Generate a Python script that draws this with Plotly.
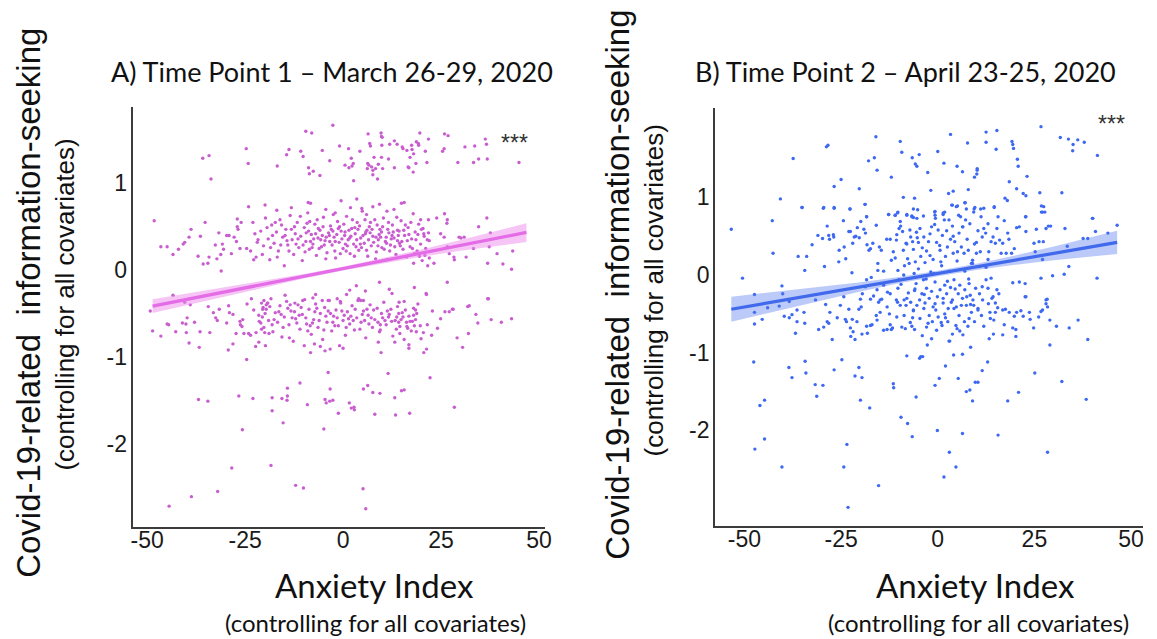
import plotly.graph_objects as go

PAGE_W, PAGE_H = 1157, 639
OFF = 8  # default page body margin
W, H = PAGE_W - OFF, PAGE_H - OFF

# ---------------- Panel A data (Time Point 1) ----------------
a_top = [(-35.8,1.29),(-34.2,1.32),(-33.7,1.05),(-24.7,1.40),(-24.2,1.23),(-16.8,1.20),(-14.4,1.33),(-13.8,1.39),
 (-10.8,1.37),(-10.2,1.31),(-9.5,1.60),(-8.0,1.58),(-8.8,1.18),(-8.6,1.11),(-7.6,1.14),(-5.9,1.09),(-5.3,1.38),
 (-3.4,1.26),(-2.6,1.67),(-0.9,1.43),(0.5,1.21),(1.4,1.40),(1.5,1.18),(2.1,1.29),(2.3,1.20),(2.6,1.23),(2.7,1.03),
 (4.3,1.37),(6.4,1.57),(6.8,1.46),(7.0,1.43),(6.3,1.23),(6.6,1.21),(6.2,1.17),(7.3,1.19),(7.6,1.15),(7.6,1.10),
 (7.9,1.30),(8.3,1.17),(8.8,1.05),(9.0,1.22),(9.7,1.58),(9.8,1.54),(10.0,1.53),(9.9,1.44),(9.8,1.30),(10.1,1.17),
 (11.6,1.28),(11.9,1.45),(13.1,1.49),(13.1,1.18),(13.8,1.45),(15.1,1.42),(15.3,1.40),(16.3,1.38),(16.6,1.19),
 (16.8,1.18),(17.1,1.30),(17.5,1.44),(17.6,1.39),(17.9,1.13),(18.0,1.34),(18.6,1.23),(18.7,1.48),(19.2,1.46),
 (19.3,1.44),(19.6,1.58),(21.0,1.37),(21.4,1.24),(21.8,1.51),(25.4,1.37),(25.8,1.40),(25.9,1.57),(26.8,1.55),
 (29.3,1.24),(31.1,1.42),(33.3,1.24),(33.6,1.43),(34.6,1.28),(36.3,1.51),(36.6,1.45),(36.8,1.28),(44.9,1.24)]

a_mid_edge = [(-48.2,0.57),(-46.5,0.27),(-44.9,0.27),(-43.4,0.18),(-42.0,0.24),(-40.8,0.30),(-40.4,0.32),(-39.3,0.38),
 (-38.8,0.47),(-37.0,0.16),(-36.4,0.39),(-35.7,0.07),(-35.2,0.55),(-34.5,0.08),(-34.2,0.15),(-32.6,0.29),(-32.2,0.13),
 (-31.7,0.43),(-31.2,0.18),(-31.1,-0.01),(-30.8,0.30),(-30.5,0.24),(-29.7,0.40),(-29.1,0.40),(-28.5,0.19),(-27.8,0.38),
 (-27.2,0.33),(-27.0,0.59),(-27.0,0.50),(-26.8,0.47),(-26.3,0.25),(-26.0,0.55),(-24.6,0.25),(-23.6,0.22),(-23.0,0.55),
 (-22.8,0.12),(-22.5,0.42),(-22.2,0.15),(-21.9,0.32),(-21.7,0.35),
 (34.6,0.50),(36.7,0.60),(37.6,0.43),(36.9,0.08),(37.3,0.27),(39.3,0.19),(40.8,0.07),(43.0,0.01),(43.3,0.22),(33.3,0.25),
 (31.4,0.15),(29.6,0.38),(30.1,0.37),(30.9,0.38),(28.3,0.15),(28.4,0.12),(26.6,0.27),(27.1,0.19),(25.9,0.65),(26.6,0.58),
 (26.5,0.54),(23.9,0.60),(24.9,0.42),(25.8,0.38),(23.2,0.08),(22.0,0.14),(21.5,0.35),(20.6,0.42),(21.8,0.58),(19.8,0.58),
 (20.4,0.48),
 (-24.1,0.73),(-19.9,0.75),(-16.9,0.69),(-13.2,0.72),(-8.9,0.78),(-8.3,0.77),(-4.4,0.70),(-0.5,0.80),(3.5,0.82),(4.8,0.71),
 (7.6,0.73),(9.3,0.76),(13.0,0.70),(14.9,0.77),(15.6,0.78),(11.2,0.68),(-2.0,0.66),(1.9,0.72),(6.0,0.64),(17.9,0.65)]

a_mid_core = [(-21.0,0.45),(-20.3,0.28),(-19.8,0.60),(-19.1,0.36),(-18.7,0.12),(-18.2,0.52),(-17.6,0.31),(-17.0,0.44),
 (-16.5,0.22),(-16.1,0.58),(-15.4,0.38),(-15.0,0.05),(-14.6,0.47),(-14.1,0.29),(-13.5,0.63),(-13.0,0.35),(-12.6,0.18),
 (-12.2,0.42),(-11.7,0.55),(-11.3,0.26),(-10.8,0.39),(-10.4,0.11),(-9.9,0.49),(-9.5,0.33),(-9.0,0.66),(-8.6,0.24),
 (-8.1,0.41),(-7.7,0.30),(-7.2,0.53),(-6.8,0.17),(-6.4,0.37),(-5.9,0.46),(-5.5,0.27),(-5.0,0.61),(-4.6,0.34),(-4.1,0.20),
 (-3.7,0.43),(-3.2,0.51),(-2.8,0.29),(-2.3,0.38),(-1.9,0.14),(-1.4,0.56),(-1.0,0.32),(-0.5,0.45),(0.0,0.25),(0.4,0.40),
 (0.9,0.62),(1.3,0.35),(1.8,0.19),(2.2,0.48),(2.7,0.30),(3.1,0.42),(3.6,0.55),(4.0,0.23),(4.5,0.37),(4.9,0.68),(5.4,0.31),
 (5.8,0.44),(6.3,0.16),(6.7,0.50),(7.2,0.28),(7.6,0.39),(8.1,0.58),(8.5,0.21),(9.0,0.35),(9.4,0.47),(9.9,0.26),(10.3,0.60),
 (10.8,0.33),(11.2,0.12),(11.7,0.43),(12.1,0.29),(12.6,0.52),(13.0,0.37),(13.5,0.18),(13.9,0.46),(14.4,0.31),(14.8,0.57),
 (15.3,0.24),(15.7,0.40),(16.2,0.15),(16.6,0.49),(17.1,0.27),(17.5,0.36),(18.0,0.08),(18.4,0.44),(18.9,0.22),(19.3,0.53),
 (19.8,0.30),(20.2,0.11),(20.7,0.39),(21.1,0.25),(21.6,0.05),(22.0,0.34),
 (-20.6,0.18),(-19.4,0.49),(-18.0,0.40),(-16.8,0.15),(-15.7,0.52),(-14.3,0.34),(-13.2,0.47),(-12.0,0.30),(-10.9,0.62),
 (-9.7,0.21),(-8.8,0.45),(-7.5,0.36),(-6.6,0.58),(-5.3,0.40),(-4.4,0.13),(-3.4,0.33),(-2.5,0.64),(-1.6,0.41),(-0.7,0.19),
 (0.2,0.53),(1.1,0.28),(2.0,0.39),(2.9,0.16),(3.8,0.47),(4.7,0.26),(5.6,0.58),(6.5,0.35),(7.4,0.47),(8.3,0.13),(9.2,0.41),
 (10.1,0.50),(11.0,0.38),(11.9,0.22),(12.8,0.44),(13.7,0.61),(14.6,0.28),(15.5,0.46),(16.4,0.34),(17.3,0.55),(18.2,0.19),
 (19.1,0.41),(20.0,0.47),(20.9,0.17),(21.8,0.43),
 (-18.5,0.26),(-17.3,0.55),(-15.9,0.29),(-14.8,0.40),(-13.8,0.22),(-12.4,0.50),(-11.5,0.36),(-10.2,0.29),(-9.2,0.54),
 (-8.3,0.33),(-7.0,0.42),(-6.1,0.25),(-5.1,0.50),(-4.3,0.38),(-3.0,0.47),(-2.1,0.22),(-1.2,0.48),(-0.3,0.36),(0.6,0.30),
 (1.5,0.46),(2.4,0.58),(3.3,0.27),(4.2,0.51),(5.1,0.40),(6.0,0.23),(6.9,0.43),(7.8,0.32),(8.7,0.52),(9.6,0.38),(10.5,0.24),
 (11.4,0.47),(12.3,0.36),(13.2,0.27),(14.1,0.40),(15.0,0.33),(15.9,0.52),(16.8,0.41),(17.7,0.25),(18.6,0.35),(19.5,0.16),
 (-9.4,0.43),(-7.9,0.26),(-6.3,0.48),(-4.8,0.29),(-3.5,0.40),(-2.0,0.33),(-0.9,0.50),(0.5,0.44),(1.7,0.37),(3.0,0.49),
 (4.4,0.30),(5.7,0.42),(7.0,0.55),(8.4,0.38),(9.8,0.44),(11.1,0.31),(12.5,0.40),(13.9,0.34),(-8.5,0.56),(-5.7,0.35),
 (-2.6,0.45),(0.8,0.22),(3.5,0.35),(6.1,0.46),(8.9,0.28),(11.6,0.55),(14.3,0.45)]

a_low_edge = [(-43.4,-0.29),(-40.4,-0.37),(-39.0,-0.40),(-34.4,-0.42),(-31.6,-0.45),(-23.4,-0.33),(-20.2,-0.35),(-19.3,-0.38),
 (-14.8,-0.29),(-12.3,-0.38),(-10.3,-0.35),(-7.7,-0.32),(-7.0,-0.28),(-5.3,-0.35),(-3.8,-0.35),(-1.5,-0.33),(-0.7,-0.36),
 (0.9,-0.28),(1.7,-0.23),(3.4,-0.18),(3.8,-0.35),(4.5,-0.35),(5.2,-0.35),(5.7,-0.24),(9.3,-0.14),(11.8,-0.22),(12.5,-0.27),
 (14.3,-0.37),(18.2,-0.20),(21.3,-0.28),(26.6,-0.14),(36.9,-0.33),(31.8,-0.42),(27.9,-0.45),
 (-49.2,-0.47),(-48.6,-0.70),(-46.5,-0.76),(-44.9,-0.62),(-44.5,-0.63),(-42.7,-0.71),(-41.0,-0.61),(-40.1,-0.62),
 (-40.0,-0.72),(-39.8,-0.55),(-39.3,-0.84),(-37.9,-0.60),(-36.7,-0.89),(-36.5,-0.71),(-34.0,-0.72),(-33.1,-0.49),
 (-32.5,-0.55),(-32.1,-0.58),(-29.7,-0.61),(-29.3,-0.92),(-29.2,-0.41),(-29.0,-0.49),(-28.1,-0.51),(-28.1,-0.85),
 (-27.3,-0.73),(-26.3,-0.59),(-26.2,-0.63),(-25.8,-0.65),(-25.6,-0.57),(-25.3,-0.73),(-24.6,-1.03),(-24.5,-0.39),
 (-24.1,-0.73),(-23.6,-0.75),(-22.8,-0.46),(-22.3,-0.88),(-22.2,-0.72),(-21.5,-0.83),(-21.4,-0.59),(-20.8,-0.68),
 (-20.6,-0.54),(-20.4,-0.43),(-20.0,-0.72),(-19.8,-0.87),(-19.6,-0.40),(-19.2,-0.38),(-18.9,-0.73),
 (43.0,-0.56),(40.4,-0.60),(37.8,-0.57),(37.1,-0.33),(34.4,-0.61),(33.9,-0.51),(32.2,-0.41),(32.0,-0.73),(30.5,-0.89),
 (29.1,-0.78),(28.1,-0.45),(27.1,-0.48),(26.0,-0.48),(24.9,-0.56),(24.1,-0.67),(22.8,-0.47),(22.6,-0.75),(21.5,-0.63),
 (21.3,-0.91),(20.6,-0.95),(21.2,-0.27),(20.5,-0.72),(19.9,-0.79),(18.7,-0.71),(18.5,-0.46),(18.0,-0.52),(17.7,-0.59),
 (16.8,-0.86),(16.8,-0.90),(16.3,-0.65),(15.6,-0.80),(14.5,-0.73),(13.2,-0.83),(14.2,-0.60),(13.7,-0.54),(9.7,-0.95),
 (9.5,-0.69),(9.0,-0.83),(0.0,-0.90),(-0.9,-0.87),(-3.3,-0.91),(-4.6,-0.93),(-5.8,-0.88),(-7.3,-0.85),(-8.3,-0.95),
 (-9.9,-0.87),(-13.7,-0.78)]

a_low_core = [(-21.5,-0.52),(-20.8,-0.38),(-20.2,-0.66),(-19.6,-0.45),(-19.0,-0.58),(-18.4,-0.33),(-17.9,-0.71),(-17.3,-0.49),
 (-16.7,-0.60),(-16.1,-0.41),(-15.6,-0.77),(-15.0,-0.54),(-14.4,-0.36),(-13.8,-0.63),(-13.3,-0.47),(-12.7,-0.82),
 (-12.1,-0.56),(-11.5,-0.40),(-11.0,-0.68),(-10.4,-0.51),(-9.8,-0.34),(-9.3,-0.62),(-8.7,-0.45),(-8.1,-0.74),(-7.5,-0.57),
 (-7.0,-0.39),(-6.4,-0.66),(-5.8,-0.50),(-5.2,-0.80),(-4.7,-0.43),(-4.1,-0.60),(-3.5,-0.35),(-2.9,-0.70),(-2.4,-0.53),
 (-1.8,-0.46),(-1.2,-0.64),(-0.6,-0.38),(0.0,-0.58),(0.6,-0.75),(1.1,-0.48),(1.7,-0.62),(2.3,-0.41),(2.9,-0.69),(3.5,-0.55),
 (4.0,-0.33),(4.6,-0.60),(5.2,-0.47),(5.8,-0.78),(6.4,-0.52),(6.9,-0.40),(7.5,-0.66),(8.1,-0.57),(8.7,-0.44),(9.3,-0.71),
 (9.8,-0.50),(10.4,-0.37),(11.0,-0.63),(11.6,-0.54),(12.2,-0.45),(12.7,-0.76),(13.3,-0.58),(13.9,-0.42),(14.5,-0.65),
 (15.1,-0.49),(15.6,-0.36),(16.2,-0.60),(16.8,-0.53),(17.4,-0.70),(18.0,-0.44),(18.5,-0.57),(19.1,-0.39),(19.7,-0.64),
 (-21.0,-0.61),(-19.9,-0.50),(-18.7,-0.42),(-17.6,-0.57),(-16.4,-0.48),(-15.3,-0.66),(-14.1,-0.44),(-13.0,-0.55),
 (-11.8,-0.61),(-10.7,-0.43),(-9.5,-0.55),(-8.4,-0.64),(-7.2,-0.48),(-6.1,-0.58),(-4.9,-0.69),(-3.8,-0.47),(-2.6,-0.60),
 (-1.5,-0.55),(-0.3,-0.47),(0.8,-0.66),(2.0,-0.53),(3.1,-0.45),(4.3,-0.68),(5.5,-0.58),(6.6,-0.62),(7.8,-0.46),(8.9,-0.60),
 (10.1,-0.55),(11.3,-0.47),(12.4,-0.59),(13.6,-0.68),(14.8,-0.57),(15.9,-0.46),(17.1,-0.59),(18.2,-0.64),
 (-20.5,-0.45),(-18.1,-0.63),(-15.8,-0.51),(-13.5,-0.40),(-11.2,-0.52),(-9.0,-0.70),(-6.7,-0.44),(-4.4,-0.53),(-2.1,-0.64),
 (0.3,-0.52),(2.6,-0.58),(4.9,-0.51),(7.2,-0.55),(9.5,-0.63),(11.8,-0.51),(14.2,-0.50),(16.5,-0.67),(18.8,-0.50),
 (-12.4,-0.48),(-7.8,-0.61),(-3.2,-0.50),(1.4,-0.56),(6.1,-0.45),(10.7,-0.58),(15.3,-0.54)]

a_tail = [(-3.8,-1.18),(11.5,-1.19),(22.2,-1.24),(-11.0,-1.30),(-14.2,-1.36),(-3.3,-1.37),(6.3,-1.33),(5.2,-1.37),
 (-36.9,-1.49),(-34.5,-1.51),(-26.6,-1.45),(-23.0,-1.48),(-18.1,-1.47),(-15.6,-1.48),(-14.2,-1.45),(-14.3,-1.50),
 (-18.1,-1.62),(-15.3,-1.76),(-25.7,-1.84),(-9.1,-1.55),(-4.6,-1.49),(-4.3,-1.53),(-3.4,-1.51),(-2.6,-1.50),(-4.9,-1.83),
 (-1.2,-1.65),(1.6,-1.53),(2.1,-1.59),(2.8,-1.58),(2.9,-1.61),(7.6,-1.41),(9.4,-1.42),(8.1,-1.66),(13.2,-1.47),
 (13.4,-1.67),(14.9,-1.39),(15.6,-1.38),(17.0,-1.65),(28.4,-1.58),(-28.4,-2.28),(-18.4,-2.25),(-32.0,-2.55),
 (-38.7,-2.61),(-44.4,-2.72),(-12.1,-2.48),(-10.1,-2.51),(5.1,-2.52),(5.8,-2.75)]

# fitted line and confidence band, panel A
lineA_x = [-48.6, 46.8]
lineA_y = [-0.415, 0.435]
bandA_x = [-48.6, -40, -30, -20, -10, 0, 10, 20, 30, 40, 46.8]
bandA_lo = [-0.495, -0.405, -0.303, -0.198, -0.097, -0.004, 0.079, 0.154, 0.223, 0.286, 0.325]
bandA_hi = [-0.335, -0.270, -0.195, -0.122, -0.045, 0.040, 0.135, 0.238, 0.347, 0.462, 0.540]

# ---------------- Panel B data (Time Point 2) ----------------
b_top = [(-37.4,1.50),(-40.7,0.98),(-35.1,0.87),(-29.6,0.86),(-28.8,1.65),(-28.4,1.67),(-26.8,0.87),(-26.8,1.14),
 (-25.0,1.23),(-22.7,0.85),(-20.3,1.11),(-18.8,0.91),(-18.4,0.75),(-17.9,1.47),(-16.4,1.51),(-16.0,1.78),(-15.7,1.35),
 (-12.7,0.78),(-12.0,1.26),(-11.0,0.77),(-10.3,0.81),(-9.7,1.72),(-9.3,1.58),(-8.9,1.00),(-8.0,0.78),(-6.7,0.76),
 (-6.6,1.51),(-6.3,0.74),(-6.0,0.99),(-6.3,0.85),(-5.8,1.43),(-5.4,1.40),(-5.2,0.84),(-4.8,1.55),(-2.6,1.32),(-1.8,1.09),
 (-0.7,0.82),(-0.7,0.77),(0.0,1.59),(1.4,0.78),(1.6,1.44),(1.8,0.81),(2.8,1.05),(3.3,1.81),(3.8,0.90),(4.0,1.08),
 (5.0,1.40),(5.1,0.89),(5.4,0.77),(6.4,1.33),(7.1,0.93),(7.4,0.85),(7.7,1.70),(7.9,1.10),(9.4,0.85),(9.5,1.26),
 (10.1,1.30),(10.2,1.37),(10.2,1.35),(11.1,0.85),(11.9,0.86),(12.5,1.84),(12.5,1.71),(14.6,0.87),(15.1,1.62),(15.3,1.86),
 (17.4,0.99),(18.0,0.96),(18.5,1.20),(19.2,1.72),(19.4,1.68),(19.6,1.63),(20.4,1.11),(20.6,1.49),(20.8,1.40),(22.1,1.05),
 (22.8,1.02),(23.1,1.27),(22.7,0.75),(26.4,1.06),(26.7,1.91),(26.8,0.81),(27.4,0.88),(27.7,0.81),(31.7,1.77),(32.1,1.06),
 (33.8,1.75),(34.9,1.60),(35.0,1.68),(36.2,1.74),(37.9,1.71),(40.0,0.73),(41.3,1.54)]

b_mid = [(-53.4,0.59),(-50.5,-0.04),(-47.4,-0.25),(-42.8,0.70),(-42.6,0.28),(-40.3,-0.14),(-40.1,-0.24),(-38.4,-0.34),
 (-36.1,0.24),(-35.1,0.87),(-34.4,0.06),(-33.9,0.24),(-32.5,0.39),(-31.0,0.51),(-29.8,0.47),(-29.5,0.87),(-29.3,0.11),
 (-28.6,0.63),(-28.2,0.51),(-28.0,0.46),(-27.0,0.52),(-26.9,0.49),(-26.8,0.86),(-25.5,0.32),(-25.6,0.17),(-24.4,0.70),
 (-24.2,0.36),(-23.8,0.21),(-23.0,0.56),(-22.7,0.85),(-22.6,0.56),(-22.2,0.03),(-22.0,0.41),(-21.6,0.49),(-21.2,0.50),
 (-20.8,0.61),(-20.3,0.48),(-19.9,0.69),(-19.1,0.59),(-18.8,0.91),(-18.7,0.54),(-18.4,0.75),(-18.3,0.39),(-17.8,0.32),
 (-17.4,0.34),(-17.2,-0.03),(-16.8,0.41),(-15.9,0.64),(-15.5,0.06),(-15.1,0.36),(-14.6,0.32),(-13.2,0.46),(-12.7,0.78),
 (-12.3,0.46),(-12.0,0.19),(-11.0,0.77),(-10.7,0.45),(-10.6,0.52),(-10.4,0.80),(-10.3,0.06),(-9.7,0.69),(-9.6,0.63),
 (-9.1,0.56),(-8.9,0.32),(-8.6,0.12),(-8.2,0.41),(-8.0,0.77),(-7.8,0.21),(-7.4,0.15),(-7.2,0.58),(-7.0,0.49),(-6.7,0.75),
 (-6.5,0.43),(-6.3,0.33),(-6.1,0.02),(-5.8,0.17),(-5.4,0.73),(-5.3,0.48),(-5.0,0.42),(-4.6,0.60),(-4.4,0.24),(-3.7,0.76),
 (-3.6,0.49),(-3.3,0.16),(-2.9,0.31),(-2.4,0.43),(-2.0,0.53),(-1.8,0.04),(-1.6,0.62),(-1.2,0.20),(-0.8,0.81),(-0.6,0.73),
 (-0.3,0.42),(0.1,0.58),(0.6,0.32),(0.8,0.17),(1.2,0.51),(1.4,0.80),(1.7,0.71),(2.0,0.24),(2.3,0.57),(2.5,0.36),(2.9,0.71),
 (3.3,0.46),(3.6,0.90),(3.8,0.63),(4.0,0.28),(4.4,0.43),(4.8,0.88),(5.1,0.30),(5.5,0.54),(5.9,0.75),(6.1,0.36),(6.4,0.62),
 (6.8,0.28),(7.0,0.93),(7.2,0.71),(7.6,0.46),(7.9,0.32),(8.3,0.66),(8.7,0.15),(9.0,0.19),(9.3,0.81),(9.5,0.40),(9.6,0.87),
 (10.0,0.28),(10.4,0.57),(10.8,0.11),(11.2,0.75),(11.5,0.49),(11.9,0.60),(12.4,0.54),(13.0,0.66),(13.2,0.30),(13.8,0.43),
 (14.3,0.49),(14.6,0.88),(14.9,0.41),(15.3,0.60),(15.6,0.75),(16.0,0.45),(16.4,0.28),(16.8,0.41),(17.2,0.70),(17.7,0.28),
 (18.1,0.54),(18.4,0.46),(19.1,0.28),(19.8,0.34),(20.4,0.61),(21.1,0.62),(22.8,0.75),(22.8,0.56),(24.9,0.41),(25.2,0.30),
 (25.5,0.59),(26.2,0.43),(26.8,0.89),(27.1,0.81),(27.3,0.43),(27.1,0.20),(28.0,0.60),(28.6,0.63),(29.2,0.63),(32.9,0.60),
 (33.5,0.37),(33.9,0.11),(37.6,0.47),(38.8,0.47),(40.1,0.73),(40.8,0.56),(41.2,-0.04),(44.0,0.54),(46.4,0.64),
 (26.7,-0.04),(29.7,-0.01),(32.7,0.01)]

b_low = [(-20.0,-0.31),(-19.5,-0.24),(-18.7,-0.15),(-18.4,-0.06),(-17.4,-0.31),(-16.6,-0.27),(-15.7,-0.19),(-14.9,-0.32),
 (-14.0,-0.13),(-13.1,-0.41),(-12.3,-0.24),(-10.7,-0.32),(-10.3,-0.17),(-10.1,-0.06),(-8.7,-0.32),(-8.2,-0.39),(-7.6,-0.23),
 (-6.3,-0.45),(-5.9,-0.18),(-5.6,-0.11),(-4.7,-0.32),(-4.1,-0.24),(-3.7,-0.06),(-3.3,-0.36),(-2.9,-0.17),(-2.2,-0.30),
 (-1.6,-0.21),(-1.2,-0.41),(-0.7,-0.09),(-0.1,-0.28),(0.6,-0.19),(1.4,-0.36),(1.8,-0.13),(2.3,-0.24),(2.7,-0.43),(3.3,-0.16),
 (3.8,-0.32),(4.2,-0.06),(4.8,-0.41),(5.3,-0.24),(5.7,-0.13),(6.4,-0.30),(7.0,-0.19),(7.4,-0.39),(8.1,-0.11),(8.4,-0.26),
 (9.1,-0.32),(9.8,-0.17),(10.4,-0.43),(10.8,-0.24),(11.6,-0.32),(12.5,-0.06),(13.0,-0.17),(13.8,-0.04),(14.3,-0.28),
 (14.9,-0.36),(15.3,-0.19),(15.8,-0.24),(16.8,-0.45),(19.4,-0.10),(21.1,-0.09),(22.6,-0.28),(22.6,-0.11),(28.0,-0.32),
 (28.4,-0.41),(26.7,-0.47),
 (-47.4,-0.48),(-47.4,-0.63),(-45.4,-0.57),(-44.0,-0.42),(-41.0,-0.40),(-39.7,-0.53),(-38.4,-0.55),(-37.7,-0.51),
 (-36.8,-0.75),(-36.4,-0.45),(-36.4,-0.60),(-34.6,-0.48),(-34.4,-0.62),(-31.6,-0.32),(-30.8,-0.70),(-29.5,-0.67),
 (-29.0,-0.38),(-28.6,-0.60),(-28.2,-0.62),(-27.9,-0.48),(-27.3,-0.83),(-26.0,-0.55),(-25.2,-0.39),(-24.3,-0.28),
 (-23.9,-0.57),(-23.6,-0.60),(-23.0,-0.44),(-22.6,-0.68),(-22.5,-0.79),(-22.1,-0.57),(-21.9,-0.73),(-21.4,-0.83),
 (-20.9,-0.60),(-20.4,-0.44),(-19.8,-0.41),(-19.6,-0.76),(-18.4,-0.66),(-18.2,-0.75),(-17.4,-0.65),(-17.0,-0.64),
 (-15.9,-0.52),(-15.7,-0.58),(-15.3,-0.35),(-14.9,-0.48),(-14.5,-0.31),(-14.0,-0.71),(-13.1,-0.70),(-12.3,-0.64),
 (-11.7,-0.68),(-10.6,-0.54),(-10.4,-0.35),(-9.7,-0.39),(-9.3,-0.67),(-8.7,-0.52),(-8.4,-0.69),(-8.0,-0.30),(-7.1,-0.61),
 (-6.7,-0.66),(-6.3,-0.46),(-6.0,-0.70),(-5.4,-0.39),(-4.6,-0.56),(-4.0,-0.78),(-3.6,-0.43),(-2.9,-0.67),(-2.7,-0.90),
 (-2.2,-0.52),(-1.6,-0.82),(-1.4,-0.60),(-0.7,-0.37),(-0.3,-0.71),(0.1,-0.54),(0.9,-0.61),(1.1,-0.65),(1.4,-0.30),
 (1.8,-0.50),(2.6,-0.60),(2.9,-0.85),(3.8,-0.76),(4.2,-0.43),(4.7,-0.65),(5.0,-0.69),(5.7,-0.72),(6.1,-0.39),(6.5,-0.77),
 (6.9,-0.60),(7.8,-0.66),(8.1,-0.56),(8.7,-0.48),(9.3,-0.39),(10.4,-0.45),(11.3,-0.52),(11.9,-0.66),(13.1,-0.37),
 (13.3,-0.82),(13.6,-0.56),(14.4,-0.76),(14.9,-0.48),(16.8,-0.77),(17.2,-0.64),(17.5,-0.44),(18.5,-0.48),(19.4,-0.68),
 (19.8,-0.53),(20.2,-0.70),(20.2,-0.79),(20.4,-0.48),(21.5,-0.46),(22.1,-0.53),(22.8,-0.28),(23.7,-0.48),(23.9,-0.57),
 (24.8,-0.68),(26.1,-0.54),(27.1,-0.45),(28.0,-0.37),(28.3,-0.31),(29.0,-0.58),(30.7,-0.66),(34.0,-0.68),(36.3,-0.58),
 (38.8,-0.83)]

b_core = [(-14.0,0.05),(-12.5,-0.50),(-11.0,0.22),(-9.5,-0.12),(-8.0,0.40),(-6.5,-0.55),(-5.0,0.08),(-3.5,-0.25),(-2.0,0.25),
 (-0.5,-0.45),(1.0,0.12),(2.5,-0.08),(4.0,0.50),(5.5,-0.52),(7.0,0.05),(8.5,-0.38),(10.0,0.42),(11.5,-0.15),(13.0,0.20),
 (14.5,-0.58),(-13.0,-0.22),(-10.0,0.60),(-7.0,-0.35),(-4.0,0.35),(-1.0,0.02),(2.0,-0.55),(5.0,0.18),(8.0,-0.05),(11.0,0.30),
 (14.0,-0.30),(-15.5,0.15),(-12.0,-0.70),(-8.8,0.00),(-5.5,0.55),(-2.5,-0.62),(0.5,0.38),(3.5,-0.35),(6.5,0.62),(9.5,-0.60),
 (12.5,0.10),(15.5,-0.42),(-11.5,0.30),(-6.0,-0.20),(-0.8,0.65),(4.5,-0.18),(9.0,0.15),(13.5,-0.48),(-3.0,-0.05),(3.0,0.05),
 (7.5,-0.28)]

b_tail = [(-47.6,-1.12),(-44.8,-1.61),(-38.5,-1.19),(-37.7,-1.32),(-34.3,-1.11),(-34.1,-1.26),(-31.7,-1.41),(-31.3,-1.56),
 (-29.7,-1.42),(-26.8,-1.22),(-24.8,-1.09),(-21.4,-1.30),(-20.4,-1.19),(-20.0,-1.61),(-19.6,-1.32),(-11.5,-1.40),
 (-11.4,-1.45),(-8.0,-1.04),(-5.6,-1.57),(-4.7,-1.07),(-4.4,-1.05),(-3.9,-1.05),(-0.7,-1.42),(0.4,-1.33),(2.0,-1.17),
 (3.1,-0.85),(4.1,-1.03),(5.3,-1.33),(6.4,-1.02),(7.4,-1.50),(8.3,-1.48),(8.5,-0.93),(9.0,-1.62),(9.7,-1.38),(10.4,-1.38),
 (11.5,-1.23),(12.9,-1.12),(18.1,-1.62),(20.9,-1.51),(25.1,-1.26),(29.0,-0.90),(32.1,-1.37),(38.4,-1.60),
 (-46.0,-1.68),(-17.6,-1.71),(-9.5,-1.83),(-7.8,-1.91),(-6.6,-2.08),(-0.1,-2.00),(6.4,-2.04),(15.6,-2.06),(-44.8,-2.11),
 (-47.3,-2.24),(-23.5,-2.18),(3.0,-2.28),(28.4,-2.28),(-40.3,-2.47),(-24.3,-2.47),(4.7,-2.47),(1.6,-2.60),(-15.3,-2.71),
 (-23.2,-2.99)]

# fitted line and confidence band, panel B
lineB_x = [-53.4, 46.4]
lineB_y = [-0.440, 0.420]
bandB_x = [-53.4, -40, -30, -20, -10, 0, 10, 20, 30, 40, 46.4]
bandB_lo = [-0.600, -0.445, -0.329, -0.212, -0.106, -0.015, 0.066, 0.132, 0.189, 0.240, 0.270]
bandB_hi = [-0.280, -0.205, -0.149, -0.092, -0.026, 0.055, 0.146, 0.252, 0.369, 0.490, 0.570]

x_ticks = [-50, -25, 0, 25, 50]
x_tick_text = ["-50", "-25", "0", "25", "50"]
y_ticks = [-2, -1, 0, 1]
y_tick_text = ["-2", "-1", "0", "1"]

title_a = "A) Time Point 1 – March 26-29, 2020"
title_b = "B) Time Point 2 – April 23-25, 2020"
y_title = "Covid-19-related  information-seeking"
x_title = "Anxiety Index"
sub_title = "(controlling for all covariates)"
sig = "***"

def xs(pts):
    return [p[0] for p in pts]

def ys(pts):
    return [p[1] for p in pts]

a_pts = a_top + a_mid_edge + a_mid_core + a_low_edge + a_low_core + a_tail
b_pts = b_top + b_mid + b_low + b_core + b_tail

A_DOT, A_LINE, A_BAND = "#C95DD0", "#E46CE6", "rgba(238,140,238,0.50)"
B_DOT, B_LINE, B_BAND = "#3D68F2", "#4169EC", "rgba(75,115,240,0.38)"

fig = go.Figure()

def add_panel(pts, bx, blo, bhi, lx, ly, dot, lcol, band, xa, ya):
    fig.add_trace(go.Scatter(x=xs(pts), y=ys(pts), mode="markers",
                             marker=dict(size=3.4, color=dot), xaxis=xa, yaxis=ya, hoverinfo="skip"))
    fig.add_trace(go.Scatter(x=bx + bx[::-1], y=bhi + blo[::-1], mode="lines", fill="toself",
                             fillcolor=band, line=dict(width=0), xaxis=xa, yaxis=ya, hoverinfo="skip"))
    fig.add_trace(go.Scatter(x=lx, y=ly, mode="lines", line=dict(color=lcol, width=3.2),
                             xaxis=xa, yaxis=ya, hoverinfo="skip"))

add_panel(a_pts, bandA_x, bandA_lo, bandA_hi, lineA_x, lineA_y, A_DOT, A_LINE, A_BAND, "x", "y")
add_panel(b_pts, bandB_x, bandB_lo, bandB_hi, lineB_x, lineB_y, B_DOT, B_LINE, B_BAND, "x2", "y2")

tick_font = dict(family="Liberation Sans, Arial, sans-serif", size=23, color="#1a1a1a")
axis_common = dict(showline=True, linecolor="#3c3c3c", linewidth=2, showgrid=False, zeroline=False,
                   ticks="", tickfont=tick_font, fixedrange=True)

# page pixel -> paper fraction (figure sits OFF px in from the page's top-left corner)
def px_x(p):
    return (p - OFF) / W

def px_y(p):
    return 1 - (p - OFF) / H

fig.update_layout(
    width=W, height=H, margin=dict(l=0, r=0, t=0, b=0),
    paper_bgcolor="white", plot_bgcolor="white", showlegend=False,
    xaxis=dict(domain=[px_x(131.5), px_x(547)], range=[-53.7, 51.6], tickvals=x_ticks, ticktext=x_tick_text,
               anchor="y", ticklabelstandoff=-9, **axis_common),
    yaxis=dict(domain=[px_y(527), px_y(107)], range=[-2.96, 1.88], tickvals=y_ticks, ticktext=y_tick_text,
               anchor="x", ticklabelstandoff=-1, **axis_common),
    xaxis2=dict(domain=[px_x(718), px_x(1149)], range=[-57.6, 53.1], tickvals=x_ticks, ticktext=x_tick_text,
                anchor="y2", ticklabelstandoff=-9, **axis_common),
    yaxis2=dict(domain=[px_y(526), px_y(108)], range=[-3.23, 2.15], tickvals=y_ticks, ticktext=y_tick_text,
                anchor="x2", ticklabelstandoff=-1, **axis_common),
)

cal = "Lato, Open Sans, sans-serif"
ari = "Liberation Sans, Arial, sans-serif"
ann = []
def txt(t, x, y, size, fam, angle=0):
    ann.append(dict(text=t, x=px_x(x), y=px_y(y), xref="paper", yref="paper", showarrow=False,
                    xanchor="center", yanchor="middle", textangle=angle,
                    font=dict(family=fam, size=size, color="#111111")))

txt(title_a, 332, 71, 27, cal)
txt(title_b, 910, 71, 27, cal)
txt(y_title, 26, 303, 33, ari, -90)
txt(sub_title, 63, 305, 26, ari, -90)
txt(y_title, 619, 285, 33, ari, -90)
txt(sub_title, 657, 290, 26, ari, -90)
txt(x_title, 375, 585, 33, cal)
txt(sub_title, 376, 622, 24, cal)
txt(x_title, 980, 585, 33, cal)
txt(sub_title, 983, 622, 24, cal)

ann.append(dict(text=sig, x=43.8, y=1.47, xref="x", yref="y", showarrow=False,
                font=dict(family=ari, size=23, color="#333333")))
ann.append(dict(text=sig, x=45.0, y=1.95, xref="x2", yref="y2", showarrow=False,
                font=dict(family=ari, size=23, color="#333333")))
fig.update_layout(annotations=ann)

fig.write_html("out.html")
